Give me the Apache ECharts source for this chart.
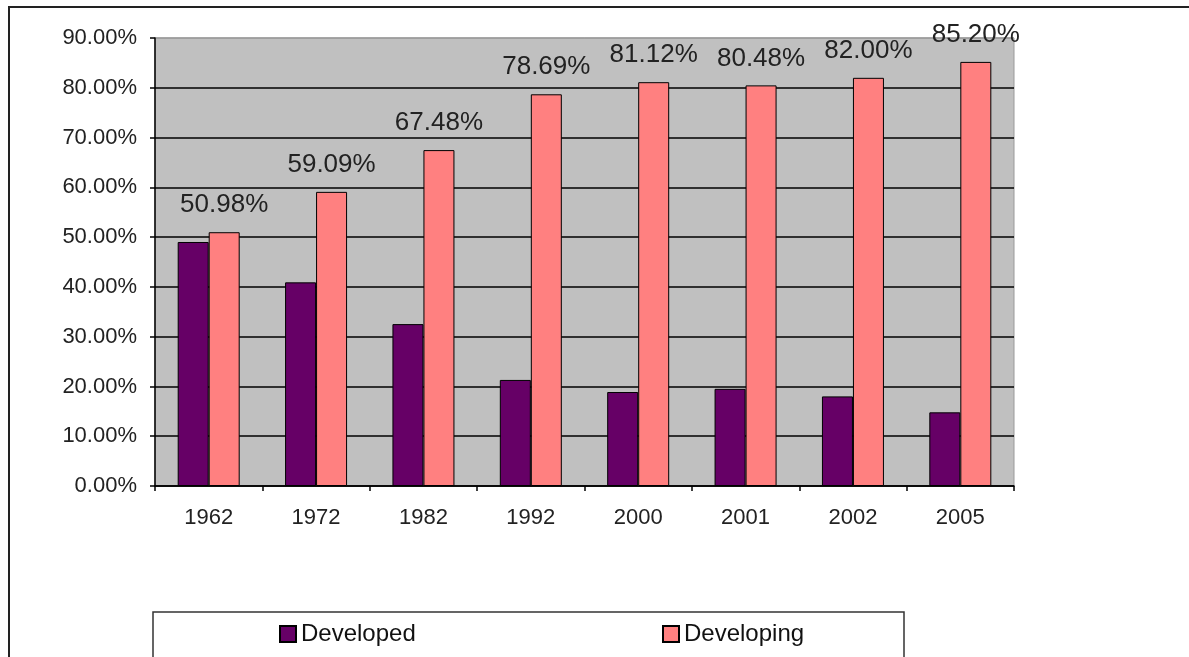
<!DOCTYPE html>
<html>
<head>
<meta charset="utf-8">
<script src="https://cdn.jsdelivr.net/npm/echarts@6/dist/echarts.min.js"></script>
<style>
  html, body { margin: 0; padding: 0; background: #fff; }
  #chart { width: 1189px; height: 657px; }
</style>
</head>
<body>
<div id="chart"></div>
<script>
// years on the x axis
const years = ["1962", "1972", "1982", "1992", "2000", "2001", "2002", "2005"];
// share of developed countries (%)
const developed = [49.02, 40.91, 32.52, 21.31, 18.88, 19.52, 18.0, 14.8];
// share of developing countries (%), labelled on the chart
const developing = [50.98, 59.09, 67.48, 78.69, 81.12, 80.48, 82.0, 85.2];

const font = "Liberation Sans, Arial, sans-serif";

const myChart = echarts.init(document.getElementById("chart"));
myChart.setOption({
  animation: false,
  textStyle: { fontFamily: font },
  grid: {
    left: 155,
    right: 175,
    top: 38,
    bottom: 171,
    show: true,
    backgroundColor: "#c0c0c0",
    borderColor: "#9a9a9a",
    borderWidth: 1
  },
  legend: [
    {
      data: ["Developed"],
      icon: "rect",
      left: 279,
      top: 622,
      padding: 0,
      itemWidth: 16,
      itemHeight: 16,
      textStyle: { fontSize: 24, color: "#111", fontFamily: font }
    },
    {
      data: ["Developing"],
      icon: "rect",
      left: 662,
      top: 622,
      padding: 0,
      itemWidth: 16,
      itemHeight: 16,
      textStyle: { fontSize: 24, color: "#111", fontFamily: font }
    }
  ],
  xAxis: {
    type: "category",
    data: years,
    boundaryGap: true,
    axisLine: { lineStyle: { color: "#000", width: 1.5 } },
    axisTick: { show: true, length: 5, lineStyle: { color: "#000", width: 1.5 } },
    axisLabel: { color: "#222", fontSize: 22, margin: 21 }
  },
  yAxis: {
    type: "value",
    min: 0,
    max: 90,
    interval: 10,
    axisLine: { show: true, lineStyle: { color: "#000", width: 1.5 } },
    axisTick: { show: true, length: 5, lineStyle: { color: "#000", width: 1.5 } },
    axisLabel: {
      color: "#222",
      fontSize: 22,
      margin: 18,
      formatter: function (v) { return v.toFixed(2) + "%"; }
    },
    splitLine: {
      show: true,
      lineStyle: {
        color: ["#000", "#000", "#000", "#000", "#000", "#000", "#000", "#000", "#000", "#9a9a9a"],
        width: 1.5
      }
    }
  },
  series: [
    {
      name: "Developed",
      type: "bar",
      data: developed,
      barWidth: 31,
      barGap: "0%",
      itemStyle: { color: "#660066", borderColor: "#000", borderWidth: 1 }
    },
    {
      name: "Developing",
      type: "bar",
      data: developing,
      barWidth: 31,
      barGap: "0%",
      itemStyle: { color: "#ff8080", borderColor: "#000", borderWidth: 1 },
      label: {
        show: true,
        position: "top",
        distance: 14,
        color: "#222",
        fontSize: 26,
        formatter: function (p) { return p.value.toFixed(2) + "%"; }
      }
    }
  ],
  graphic: [
    // outer frame (top and left edges only are visible)
    { type: "line", shape: { x1: 8, y1: 7, x2: 1189, y2: 7 }, style: { stroke: "#222", lineWidth: 2 } },
    { type: "line", shape: { x1: 9, y1: 7, x2: 9, y2: 657 }, style: { stroke: "#222", lineWidth: 2 } },
    // legend box
    {
      type: "rect",
      shape: { x: 153, y: 612, width: 751, height: 60 },
      style: { fill: "none", stroke: "#333", lineWidth: 1.5 },
      z: -1
    }
  ]
});
</script>
</body>
</html>
